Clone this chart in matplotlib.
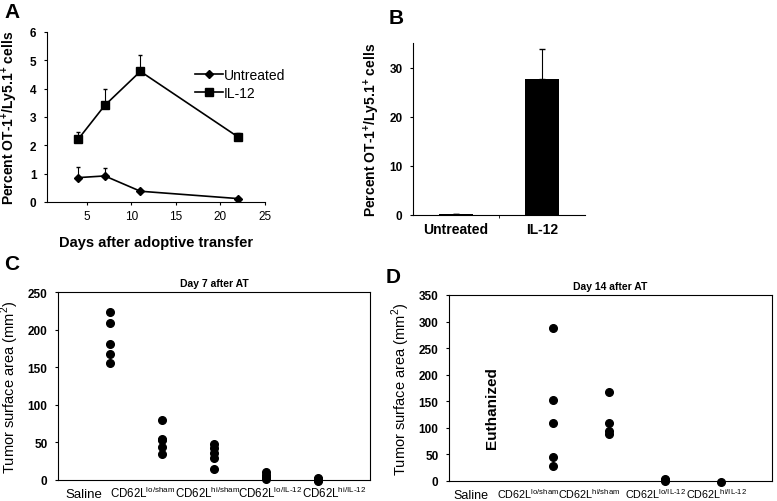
import matplotlib
matplotlib.use("Agg")
import matplotlib.pyplot as plt
from matplotlib.lines import Line2D

plt.rcParams['font.family'] = ['Liberation Sans', 'DejaVu Sans']
plt.rcParams['mathtext.fontset'] = 'custom'
plt.rcParams['mathtext.rm'] = 'Liberation Sans'
plt.rcParams['mathtext.bf'] = 'Liberation Sans:bold'

# ---- Panel A data ----
days = [4, 7, 11, 22]
untreated = [0.86, 0.92, 0.38, 0.12]
untreated_err = [0.38, 0.28, 0.0, 0.0]
il12 = [2.21, 3.41, 4.61, 2.29]
il12_err = [0.26, 0.59, 0.57, 0.16]

# ---- Panel B data ----
groups_b = ["Untreated", "IL-12"]
values_b = [0.3, 27.6]
err_b = [0.0, 6.1]

# ---- Panels C/D data ----
cat_labels = ["Saline", r"CD62L$^{\text{lo/sham}}$", r"CD62L$^{\text{hi/sham}}$",
              r"CD62L$^{\text{lo/IL-12}}$", r"CD62L$^{\text{hi/IL-12}}$"]
day7_saline = [224, 209, 181, 168, 155]
day7_losham = [80, 55, 53, 44, 35]
day7_hisham = [48, 42, 36, 29, 15]
day7_loil12 = [10, 7, 4, 1]
day7_hiil12 = [2, 1, 0, -1]

day14_losham = [288, 153, 109, 46, 29]
day14_hisham = [167, 109, 95, 89]
day14_loil12 = [3, 1, 0]
day14_hiil12 = [-1]

W, H = 777, 502
fig = plt.figure(figsize=(W / 100, H / 100), dpi=100)


def rect(l, t, r, b):
    return [l / W, 1 - b / H, (r - l) / W, (b - t) / H]


tick_fs = 8.5
ylab = r"Percent OT-1$^{\mathbf{+}}$/Ly5.1$^{\mathbf{+}}$ cells"

# ---------- Panel A ----------
axA = fig.add_axes(rect(46.9, 33, 265, 203))
axA.errorbar(days, untreated, yerr=[[0] * 4, untreated_err], color='black', marker='D',
             markersize=4, linewidth=1.2, elinewidth=0.8, capsize=1.5, label='Untreated')
axA.errorbar(days, il12, yerr=[[0] * 4, il12_err], color='black', marker='s',
             markersize=6, linewidth=1.2, elinewidth=0.8, capsize=1.5, label='IL-12')
axA.set_xlim(0.5, 25)
axA.set_ylim(0, 6)
axA.set_xticks([5, 10, 15, 20, 25])
axA.set_yticks(range(0, 7))
for s in ['top', 'right']:
    axA.spines[s].set_visible(False)
axA.tick_params(labelsize=tick_fs, length=2.5, width=0.8)
axA.tick_params(axis='y', pad=5)
for lab in axA.get_yticklabels():
    lab.set_fontweight('bold')
axA.set_xlabel("Days after adoptive transfer", fontsize=10.5, fontweight='bold', labelpad=9)
axA.set_ylabel(ylab, fontsize=10, fontweight='bold', labelpad=7)
handles = [Line2D([], [], color='black', marker='D', markersize=4, linewidth=1.2),
           Line2D([], [], color='black', marker='s', markersize=6, linewidth=1.2)]
axA.legend(handles, ['Untreated', 'IL-12'], loc='upper left', frameon=False, fontsize=10,
           bbox_to_anchor=(188 / W, 1 - 62 / H), bbox_transform=fig.transFigure,
           handlelength=2.0, handletextpad=0.1, labelspacing=0.3, borderpad=0)
fig.text(12 / W, 1 - 12 / H, "A", fontsize=15, fontweight='bold', ha='center', va='center')

# ---------- Panel B ----------
axB = fig.add_axes(rect(413, 44, 585, 216))
xb = [0, 1]
axB.bar(xb, values_b, width=0.4, color='black')
axB.errorbar(xb, values_b, yerr=[[0, 0], err_b], fmt='none', ecolor='black',
             elinewidth=0.8, capsize=2)
axB.set_xlim(-0.5, 1.5)
axB.set_ylim(0, 35)
axB.set_yticks([0, 10, 20, 30])
axB.set_xticks([0.5], minor=True)
axB.set_xticks(xb)
axB.set_xticklabels(groups_b, fontsize=10, fontweight='bold')
axB.tick_params(axis='x', which='major', length=0, pad=5)
axB.tick_params(axis='x', which='minor', length=2.5)
axB.tick_params(axis='y', labelsize=tick_fs, length=2.5, width=0.8, pad=5)
for lab in axB.get_yticklabels():
    lab.set_fontweight('bold')
for s in ['top', 'right']:
    axB.spines[s].set_visible(False)
axB.set_ylabel(ylab, fontsize=10, fontweight='bold', labelpad=5)
fig.text(396 / W, 1 - 19 / H, "B", fontsize=15, fontweight='bold', ha='center', va='center')


def scatter_panel(ax, series, xlim, ylim, yticks, title, label_pos, label_fs, saline_fs):
    for i, vals in series:
        ax.plot([i] * len(vals), vals, 'o', color='black', markersize=5.5, clip_on=False)
    ax.set_xlim(*xlim)
    ax.set_ylim(*ylim)
    ax.set_yticks(yticks)
    ax.set_xticks(label_pos)
    ax.set_xticklabels(cat_labels, fontsize=label_fs, va='baseline')
    ax.get_xticklabels()[0].set_fontsize(saline_fs)
    ax.tick_params(axis='x', length=0, pad=12)
    ax.tick_params(axis='y', labelsize=tick_fs, length=2.5, width=0.8, pad=5)
    for lab in ax.get_yticklabels():
        lab.set_fontweight('bold')
    for s in ax.spines.values():
        s.set_linewidth(0.8)
    ax.set_title(title, fontsize=7.5, fontweight='bold', pad=4)
    ax.set_ylabel(r"Tumor surface area (mm$^2$)", fontsize=10.5, labelpad=5)


# ---------- Panel C ----------
axC = fig.add_axes(rect(58, 293, 370, 481))
scatter_panel(axC, [(1, day7_saline), (2, day7_losham), (3, day7_hisham),
                    (4, day7_loil12), (5, day7_hiil12)],
              (0, 6), (0, 250), range(0, 251, 50), "Day 7 after AT",
              [0.5, 1.63, 2.88, 4.08, 5.31], 8.3, 9.5)
fig.text(12 / W, 1 - 265 / H, "C", fontsize=15, fontweight='bold', ha='center', va='center')

# ---------- Panel D ----------
axD = fig.add_axes(rect(449, 296, 772, 482))
scatter_panel(axD, [(2, day14_losham), (3, day14_hisham),
                    (4, day14_loil12), (5, day14_hiil12)],
              (0.134, 5.91), (0, 350), range(0, 351, 50), "Day 14 after AT",
              [0.53, 1.55, 2.63, 3.82, 4.91], 7.8, 9)
axD.text(0.9, 139, "Euthanized", rotation=90, fontsize=11, fontweight='bold',
         ha='center', va='center')
fig.text(393 / W, 1 - 278 / H, "D", fontsize=15, fontweight='bold', ha='center', va='center')

fig.savefig("out.png", dpi=100)
